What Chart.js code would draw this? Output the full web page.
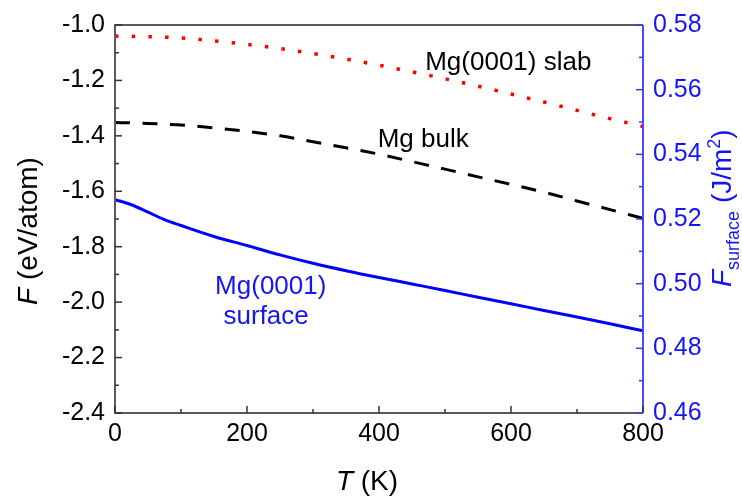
<!DOCTYPE html>
<html>
<head>
<meta charset="utf-8">
<script src="https://cdn.jsdelivr.net/npm/chart.js@4/dist/chart.umd.min.js"></script>
<style>
  html, body { margin: 0; padding: 0; background: #fff; }
  #wrap { width: 742px; height: 496px; }
</style>
</head>
<body>
<div id="wrap"><canvas id="c" width="742" height="496"></canvas></div>
<script>
// ---- data ----
const temperatures = [0, 25, 50, 75, 100, 150, 200, 250, 300, 350, 400, 450, 500, 550, 600, 650, 700, 750, 800];
const slabF = [-1.040, -1.041, -1.042, -1.044, -1.047, -1.057, -1.070, -1.085, -1.103, -1.123, -1.145, -1.169, -1.194, -1.221, -1.249, -1.278, -1.308, -1.338, -1.366];
const bulkF = [-1.352, -1.353, -1.355, -1.358, -1.361, -1.371, -1.384, -1.400, -1.421, -1.443, -1.466, -1.493, -1.520, -1.548, -1.575, -1.603, -1.635, -1.666, -1.698];
const surfaceF = [0.5260, 0.5244, 0.5221, 0.5198, 0.5180, 0.5146, 0.5118, 0.5089, 0.5063, 0.5040, 0.5019, 0.4999, 0.4979, 0.4958, 0.4938, 0.4917, 0.4897, 0.4876, 0.4854];

const leftTickLabels = ['-2.4', '-2.2', '-2.0', '-1.8', '-1.6', '-1.4', '-1.2', '-1.0'];
const rightTickLabels = ['0.46', '0.48', '0.50', '0.52', '0.54', '0.56', '0.58'];
const bottomTickLabels = ['0', '200', '400', '600', '800'];

const FONT = "'Liberation Sans', Arial, sans-serif";
const BLUE = '#0000ff';
const BLUE_TEXT = '#1414f5';

function pts(ys) { return temperatures.map((t, i) => ({ x: t, y: ys[i] })); }

function labelFor(list, value, digits) {
  const s = value.toFixed(digits);
  const norm = s === '-0.0' ? '0.0' : s;
  return list.includes(norm) ? norm : '';
}

function drawRich(ctx, parts, x, y, rotated, align) {
  let total = 0;
  parts.forEach(p => { ctx.font = p.font; p.w = ctx.measureText(p.text).width; total += p.w; });
  ctx.save();
  ctx.translate(x, y);
  if (rotated) ctx.rotate(-Math.PI / 2);
  let cx = align === 'center' ? -total / 2 : 0;
  ctx.textBaseline = 'alphabetic';
  ctx.textAlign = 'left';
  parts.forEach(p => {
    ctx.font = p.font;
    ctx.fillText(p.text, cx, p.dy || 0);
    cx += p.w;
  });
  ctx.restore();
}

const decor = {
  id: 'decor',
  afterDraw(chart) {
    const { ctx, chartArea: a, scales } = chart;
    const { x, y, y1 } = scales;
    ctx.save();
    ctx.lineWidth = 2;
    ctx.strokeStyle = '#5a5a5a';
    ctx.beginPath();
    ctx.moveTo(a.right, a.top); ctx.lineTo(a.left, a.top);
    ctx.lineTo(a.left, a.bottom); ctx.lineTo(a.right, a.bottom);
    ctx.stroke();
    ctx.strokeStyle = '#4a4aff';
    ctx.beginPath(); ctx.moveTo(a.right, a.top); ctx.lineTo(a.right, a.bottom); ctx.stroke();

    ctx.lineWidth = 1.5;
    ctx.strokeStyle = '#333';
    x.ticks.forEach(t => {
      const px = x.getPixelForValue(t.value);
      const len = labelFor(bottomTickLabels, t.value, 0) ? 7 : 4;
      ctx.beginPath(); ctx.moveTo(px, a.bottom); ctx.lineTo(px, a.bottom - len); ctx.stroke();
    });
    y.ticks.forEach(t => {
      const py = y.getPixelForValue(t.value);
      const len = labelFor(leftTickLabels, t.value, 1) ? 7 : 4;
      ctx.beginPath(); ctx.moveTo(a.left, py); ctx.lineTo(a.left + len, py); ctx.stroke();
    });
    ctx.strokeStyle = '#3a3aff';
    y1.ticks.forEach(t => {
      const py = y1.getPixelForValue(t.value);
      const len = labelFor(rightTickLabels, t.value, 2) ? 7 : 4;
      ctx.beginPath(); ctx.moveTo(a.right, py); ctx.lineTo(a.right - len, py); ctx.stroke();
    });

    ctx.fillStyle = '#000';
    drawRich(ctx, [
      { text: 'F', font: `italic 28px ${FONT}` },
      { text: ' (eV/atom)', font: `28px ${FONT}` }
    ], 37, (a.top + a.bottom) / 2 + 12, true, 'center');
    drawRich(ctx, [
      { text: 'T', font: `italic 28px ${FONT}` },
      { text: ' (K)', font: `28px ${FONT}` }
    ], (a.left + a.right) / 2 - 12, 490, false, 'center');
    ctx.fillStyle = BLUE_TEXT;
    drawRich(ctx, [
      { text: 'F', font: `italic 28px ${FONT}` },
      { text: 'surface', font: `18px ${FONT}`, dy: 8 },
      { text: ' (J/m', font: `28px ${FONT}` },
      { text: '2', font: `18px ${FONT}`, dy: -11 },
      { text: ')', font: `28px ${FONT}` }
    ], 731, 287, true, 'left');

    ctx.fillStyle = '#000';
    ctx.font = `26px ${FONT}`;
    ctx.textAlign = 'left';
    ctx.textBaseline = 'alphabetic';
    ctx.fillText('Mg(0001) slab', x.getPixelForValue(470), y.getPixelForValue(-1.164));
    ctx.fillText('Mg bulk', x.getPixelForValue(398), y.getPixelForValue(-1.440));
    ctx.fillStyle = BLUE_TEXT;
    ctx.textAlign = 'center';
    ctx.fillText('Mg(0001)', x.getPixelForValue(236), y.getPixelForValue(-1.971));
    ctx.fillText('surface', x.getPixelForValue(229), y.getPixelForValue(-2.079));
    ctx.restore();
  }
};

new Chart(document.getElementById('c'), {
  type: 'line',
  data: {
    datasets: [
      { label: 'Mg(0001) slab', data: pts(slabF), yAxisID: 'y', borderColor: '#ff0000', borderWidth: 3.5,
        borderDash: [3.5, 13.2], pointRadius: 0, cubicInterpolationMode: 'monotone', fill: false },
      { label: 'Mg bulk', data: pts(bulkF), yAxisID: 'y', borderColor: '#000000', borderWidth: 3,
        borderDash: [15, 12.5], pointRadius: 0, cubicInterpolationMode: 'monotone', fill: false },
      { label: 'Mg(0001) surface', data: pts(surfaceF), yAxisID: 'y1', borderColor: BLUE, borderWidth: 3,
        pointRadius: 0, cubicInterpolationMode: 'monotone', fill: false }
    ]
  },
  options: {
    responsive: false,
    devicePixelRatio: 1,
    animation: false,
    layout: { padding: { top: 25, left: 0, right: 0, bottom: 0 } },
    plugins: { legend: { display: false }, tooltip: { enabled: false } },
    scales: {
      x: {
        type: 'linear', position: 'bottom', min: 0, max: 800,
        grid: { display: false, drawTicks: false },
        border: { display: false },
        ticks: { stepSize: 100, autoSkip: false, maxRotation: 0, padding: 6, color: '#000',
                 font: { family: FONT, size: 25 },
                 callback: v => labelFor(bottomTickLabels, v, 0) },
        afterFit: s => { s.height = 83; }
      },
      y: {
        type: 'linear', position: 'left', min: -2.4, max: -1.0,
        grid: { display: false, drawTicks: false },
        border: { display: false },
        ticks: { stepSize: 0.1, autoSkip: false, maxTicksLimit: 100, padding: 10, color: '#000',
                 font: { family: FONT, size: 25 },
                 callback: v => labelFor(leftTickLabels, v, 1) },
        afterFit: s => { s.width = 115; }
      },
      y1: {
        type: 'linear', position: 'right', min: 0.46, max: 0.58,
        grid: { display: false, drawTicks: false },
        border: { display: false },
        ticks: { stepSize: 0.01, autoSkip: false, maxTicksLimit: 100, padding: 10, color: BLUE_TEXT,
                 font: { family: FONT, size: 25 },
                 callback: v => labelFor(rightTickLabels, v, 2) },
        afterFit: s => { s.width = 99; }
      }
    }
  },
  plugins: [decor]
});
</script>
</body>
</html>
